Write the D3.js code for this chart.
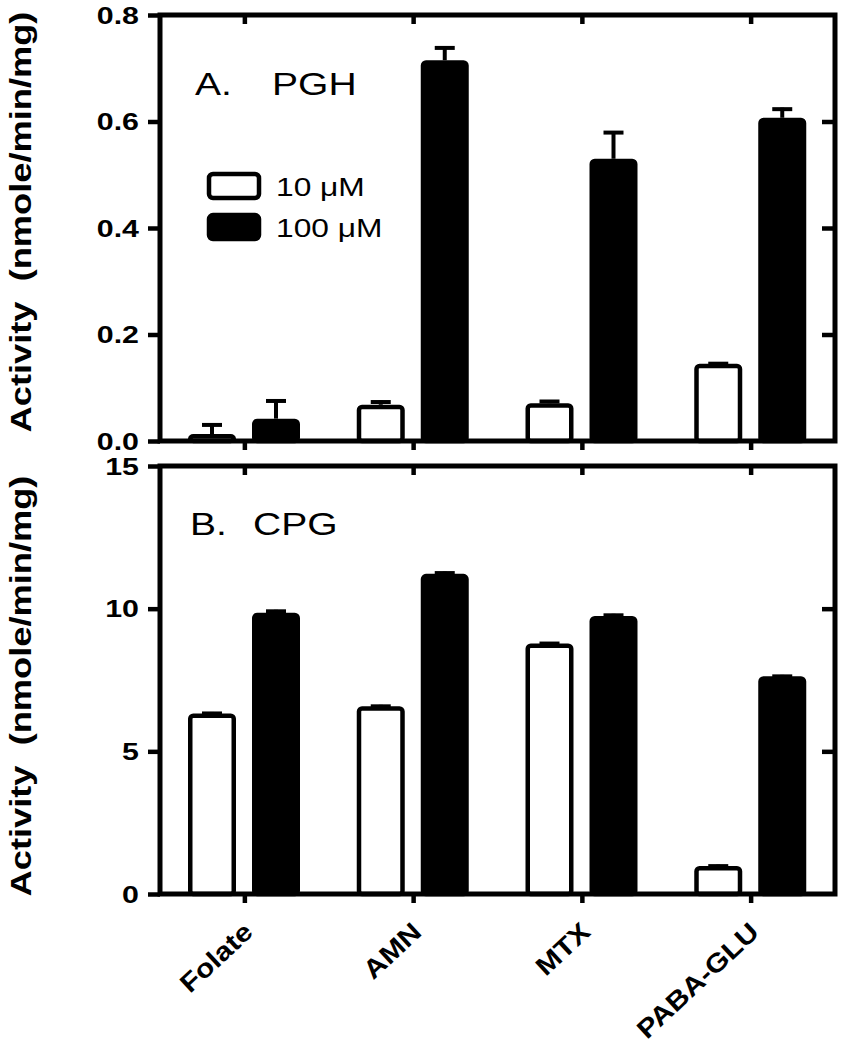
<!DOCTYPE html>
<html>
<head>
<meta charset="utf-8">
<script src="https://cdn.jsdelivr.net/npm/d3@7"></script>
<style>
  html, body { margin: 0; padding: 0; background: #fff; }
  svg text { font-family: "Liberation Sans", Arial, sans-serif; fill: #000; }
</style>
</head>
<body>
<svg id="chart" width="842" height="1050"></svg>
<script>
// ---------- data ----------
const categories = ["Folate", "AMN", "MTX", "PABA-GLU"];
const seriesNames = ["10 \u03bcM", "100 \u03bcM"];

const pgh10     = [0.013, 0.068, 0.071, 0.145];
const pgh10Err  = [0.020, 0.008, 0.006, 0.003];
const pgh100    = [0.042, 0.715, 0.530, 0.607];
const pgh100Err = [0.036, 0.026, 0.052, 0.019];

const cpg10     = [6.33, 6.58, 8.78, 0.98];
const cpg10Err  = [0.05, 0.05, 0.05, 0.05];
const cpg100    = [9.86, 11.22, 9.74, 7.63];
const cpg100Err = [0.10, 0.08, 0.08, 0.05];

const pghTicks = [0, 0.2, 0.4, 0.6, 0.8];
const pghTickLabels = ["0.0", "0.2", "0.4", "0.6", "0.8"];
const cpgTicks = [0, 5, 10, 15];
const cpgTickLabels = ["0", "5", "10", "15"];

// ---------- layout ----------
const svg = d3.select("#chart");
const X0 = 160, X1 = 835;
const SX = 1.22; // horizontal stretch of the original lettering
const LW = 5;

const x = d3.scaleBand().domain(categories).range([X0, X1]).paddingInner(0).paddingOuter(0);
const xSub = d3.scaleBand().domain([0, 1]).range([28, 140]).paddingInner(0.25).paddingOuter(0);

function panel(opts) {
  const y = d3.scaleLinear().domain([0, opts.max]).range([opts.bottom, opts.top]);
  const g = svg.append("g");

  const rows = categories.map((c, i) => ({c, i}));
  [0, 1].forEach(s => {
    const vals = s === 0 ? opts.v10 : opts.v100;
    const errs = s === 0 ? opts.e10 : opts.e100;
    const bw = xSub.bandwidth();
    g.selectAll(null).data(rows).enter().append("line")
      .attr("x1", d => x(d.c) + xSub(s) + bw / 2)
      .attr("x2", d => x(d.c) + xSub(s) + bw / 2)
      .attr("y1", d => y(vals[d.i]))
      .attr("y2", d => y(vals[d.i] + errs[d.i]))
      .attr("stroke", "#000").attr("stroke-width", 4);
    g.selectAll(null).data(rows).enter().append("line")
      .attr("x1", d => x(d.c) + xSub(s) + bw / 2 - 10)
      .attr("x2", d => x(d.c) + xSub(s) + bw / 2 + 10)
      .attr("y1", d => y(vals[d.i] + errs[d.i]) + 1.5)
      .attr("y2", d => y(vals[d.i] + errs[d.i]) + 1.5)
      .attr("stroke", "#000").attr("stroke-width", 4);
    g.selectAll(null).data(rows).enter().append("rect")
      .attr("x", d => x(d.c) + xSub(s) + 2.25)
      .attr("width", bw - 4.5)
      .attr("y", d => y(vals[d.i]) + 2.25)
      .attr("height", d => Math.max(0, opts.bottom - y(vals[d.i]) - 2.25))
      .attr("rx", 3).attr("ry", 3)
      .attr("fill", s === 0 ? "#fff" : "#000")
      .attr("stroke", "#000").attr("stroke-width", 4.5);
  });

  const left = d3.axisLeft(y).tickValues(opts.ticks).tickFormat((d, i) => opts.labels[i])
    .tickSize(12).tickPadding(8).tickSizeOuter(0);
  const ga = g.append("g").attr("transform", `translate(${X0},0)`).call(left);
  ga.select(".domain").remove();
  ga.selectAll(".tick line").attr("stroke", "#000").attr("stroke-width", 4.5);
  ga.selectAll(".tick text").attr("font-size", 23).attr("font-weight", "bold")
    .attr("text-anchor", "end").attr("x", 0).attr("dy", "0.36em")
    .attr("transform", `translate(-21,0) scale(1.32,1)`);

  const right = d3.axisLeft(y).tickValues(opts.rightTicks).tickFormat("").tickSize(13).tickSizeOuter(0);
  const gr = g.append("g").attr("transform", `translate(${X1},0)`).call(right);
  gr.select(".domain").remove();
  gr.selectAll(".tick line").attr("stroke", "#000").attr("stroke-width", 4.5);

  const cx = d => x(d) + x.bandwidth() / 2;
  const top = d3.axisBottom(d3.scalePoint().domain(categories).range([cx(categories[0]), cx(categories[3])]))
    .tickFormat("").tickSize(9).tickSizeOuter(0);
  const gt = g.append("g").attr("transform", `translate(0,${opts.top})`).call(top);
  gt.select(".domain").remove();
  gt.selectAll(".tick line").attr("stroke", "#000").attr("stroke-width", 4.5);

  const gb = g.append("g").attr("transform", `translate(0,${opts.bottom})`).call(top);
  gb.select(".domain").remove();
  gb.selectAll(".tick line").attr("stroke", "#000").attr("stroke-width", 4.5);

  g.append("rect").attr("x", X0).attr("y", opts.top).attr("width", X1 - X0)
    .attr("height", opts.bottom - opts.top)
    .attr("fill", "none").attr("stroke", "#000").attr("stroke-width", LW);

  const midY = (opts.top + opts.bottom) / 2 + opts.titleShift;
  g.append("text").attr("transform", `translate(31,${midY}) rotate(-90) scale(1.25,1)`)
    .attr("text-anchor", "middle").attr("font-size", 29).attr("font-weight", "bold")
    .attr("xml:space", "preserve")
    .text("Activity  (nmole/min/mg)");

  g.append("text").attr("transform", `translate(${opts.labX},${opts.labY}) scale(${SX},1)`)
    .attr("font-size", 32).text(opts.lab1);
  g.append("text").attr("transform", `translate(${opts.labX2},${opts.labY}) scale(${SX},1)`)
    .attr("font-size", 32).text(opts.lab2);
  return {g, y};
}

panel({top: 15, bottom: 441, max: 0.8, v10: pgh10, e10: pgh10Err, v100: pgh100, e100: pgh100Err,
  ticks: pghTicks, labels: pghTickLabels, rightTicks: [0.2, 0.4, 0.6], titleShift: -6,
  lab1: "A.", lab2: "PGH", labX: 195, labX2: 272, labY: 95});
panel({top: 466, bottom: 894, max: 15, v10: cpg10, e10: cpg10Err, v100: cpg100, e100: cpg100Err,
  ticks: cpgTicks, labels: cpgTickLabels, rightTicks: [5, 10], titleShift: 6,
  lab1: "B.", lab2: "CPG", labX: 190, labX2: 253, labY: 535});

// legend (panel A)
const legend = svg.append("g");
const legY = d3.scaleBand().domain(seriesNames).range([172, 250]).paddingInner(0.1);
legend.selectAll(null).data(seriesNames).enter().append("rect")
  .attr("x", 209).attr("y", d => legY(d) + 2)
  .attr("width", 50).attr("height", 24).attr("rx", 4).attr("ry", 4)
  .attr("fill", (d, i) => i === 0 ? "#fff" : "#000")
  .attr("stroke", "#000").attr("stroke-width", 4.5);
legend.selectAll(null).data(seriesNames).enter().append("text")
  .attr("transform", d => `translate(276,${legY(d) + 24}) scale(${SX},1)`)
  .attr("font-size", 26).text(d => d);

// x labels
svg.append("g").selectAll(null).data(categories).enter().append("text")
  .attr("transform", d => `translate(${x(d) + x.bandwidth() / 2 + 10},${934}) rotate(-43) scale(1.15,1)`)
  .attr("text-anchor", "end").attr("font-size", 26).attr("font-weight", "bold")
  .text(d => d);
</script>
</body>
</html>
